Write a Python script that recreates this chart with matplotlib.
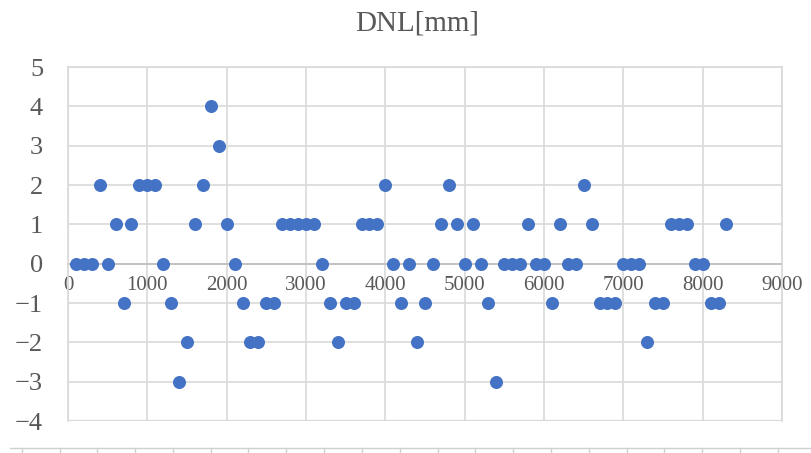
import numpy as np
import matplotlib.pyplot as plt
from matplotlib.lines import Line2D

# scatter data
x_vals = list(range(100, 8400, 100))
dnl = [0, 0, 0, 2, 0, 1, -1, 1, 2, 2,
       2, 0, -1, -3, -2, 1, 2, 4, 3, 1,
       0, -1, -2, -2, -1, -1, 1, 1, 1, 1,
       1, 0, -1, -2, -1, -1, 1, 1, 1, 2,
       0, -1, 0, -2, -1, 0, 1, 2, 1, 0,
       1, 0, -1, -3, 0, 0, 0, 1, 0, 0,
       -1, 1, 0, 0, 2, 1, -1, -1, -1, 0,
       0, 0, -2, -1, -1, 1, 1, 1, 0, 0,
       -1, -1, 1]
x_ticks = list(range(0, 10000, 1000))
y_ticks = list(range(-4, 6))

plt.rcParams['font.family'] = ['Liberation Serif', 'DejaVu Serif']
grey_txt = '#595959'
grid_c = '#D9D9D9'

fig = plt.figure(figsize=(8.11, 4.53), dpi=100)
ax = fig.add_axes([68/811, 1-421/453, (782-68)/811, (421-67)/453])

ax.scatter(x_vals, dnl, s=88, color='#4472C4', zorder=3, linewidths=0)

ax.set_xlim(0, 9000)
ax.set_ylim(-4, 5)
ax.set_xticks(x_ticks)
ax.set_yticks(y_ticks)
ax.grid(True, color=grid_c, linewidth=1.2, zorder=0)
ax.set_axisbelow(True)

# x axis crosses at zero like in Excel
ax.spines['bottom'].set_position(('data', 0))
ax.spines['bottom'].set_color('#BFBFBF')
ax.spines['bottom'].set_linewidth(1.3)
ax.spines['bottom'].set_zorder(1)
for s in ['top', 'left', 'right']:
    ax.spines[s].set_color(grid_c)
    ax.spines[s].set_linewidth(1.2)
ax.axhline(-4, color=grid_c, linewidth=2.4, zorder=0)

ax.tick_params(axis='x', length=0, pad=9, labelsize=15, labelcolor=grey_txt)
ax.tick_params(axis='y', length=0, pad=18, labelsize=19, labelcolor=grey_txt)

fig.text(0.515, 0.948, 'DNL[mm]', ha='center', va='center',
         fontsize=21, color=grey_txt)

# spreadsheet cell strip at the bottom
fig.add_artist(Line2D([10/811, 1], [1-448/453, 1-448/453],
                      transform=fig.transFigure, color='#D0D0D0', lw=1))
for px in np.arange(21.7, 811, 37.8):
    fig.add_artist(Line2D([px/811, px/811], [0, 1-448/453],
                          transform=fig.transFigure, color='#D0D0D0', lw=1))

fig.savefig('out.png', dpi=100, facecolor='white')
